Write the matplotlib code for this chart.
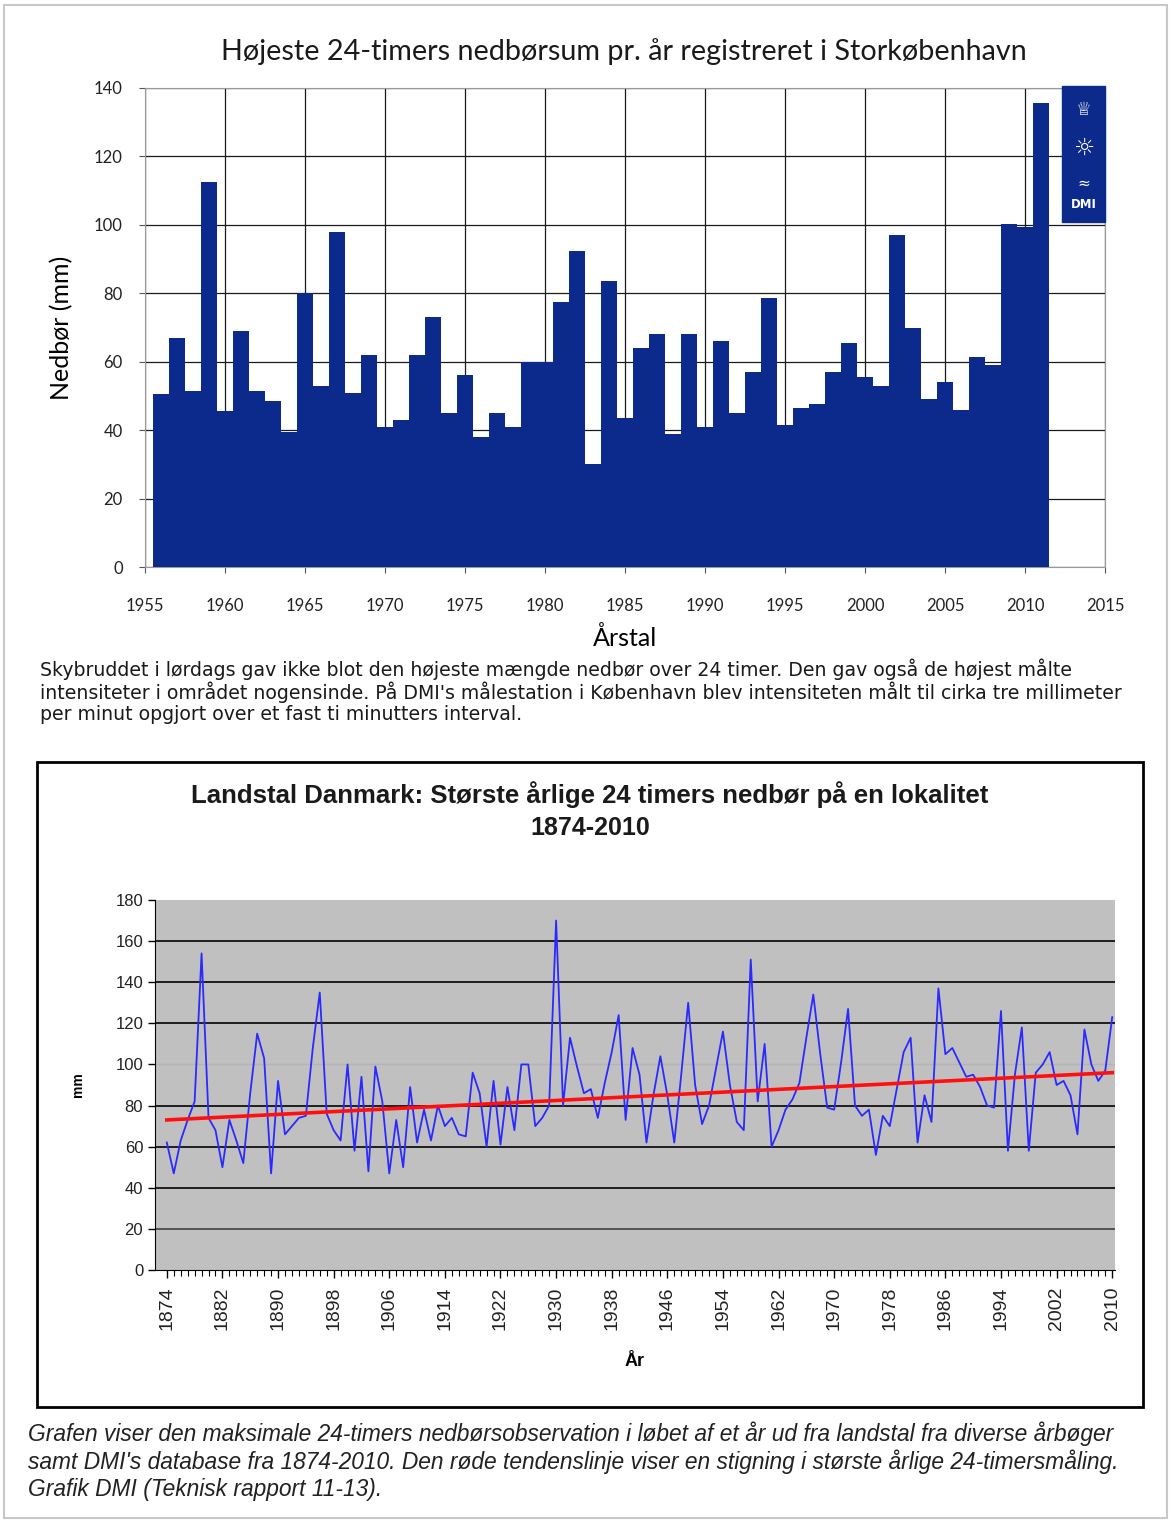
import numpy as np
import matplotlib.pyplot as plt
from matplotlib.patches import Rectangle

# Storkøbenhavn: højeste 24-timers nedbør pr. år (mm)
aar_kbh = list(range(1956, 2012))
nedbor_kbh = [50.5, 67, 51.5, 112.5, 45.5, 69, 51.5, 48.5, 39.5, 80,
              53, 98, 51, 62, 41, 43, 62, 73, 45, 56,
              38, 45, 41, 60, 60, 77.5, 92.5, 30, 83.5, 43.5,
              64, 68, 39, 68, 41, 66, 45, 57, 78.5, 41.5,
              46.5, 47.5, 57, 65.5, 55.5, 53, 97, 70, 49, 54,
              46, 61.5, 59, 100.3, 99.5, 135.5]

# Landstal Danmark: største årlige 24 timers nedbør (mm)
aar_dk = list(range(1874, 2011))
nedbor_dk = [62, 47, 63, 73, 82, 154, 74, 68, 50, 73,
             63, 52, 86, 115, 103, 47, 92, 66, 70, 74,
             75, 108, 135, 76, 68, 63, 100, 58, 94, 48,
             99, 82, 47, 73, 50, 89, 62, 78, 63, 80,
             70, 74, 66, 65, 96, 86, 60, 92, 61, 89,
             68, 100, 100, 70, 74, 80, 170, 80, 113, 99,
             86, 88, 74, 91, 106, 124, 73, 108, 95, 62,
             85, 104, 85, 62, 95, 130, 90, 71, 80, 98,
             116, 90, 72, 68, 151, 82, 110, 60, 68, 78,
             83, 91, 113, 134, 105, 79, 78, 101, 127, 80,
             75, 78, 56, 75, 70, 88, 106, 113, 62, 85,
             72, 137, 105, 108, 101, 94, 95, 89, 80, 79,
             126, 58, 95, 118, 58, 96, 100, 106, 90, 92,
             85, 66, 117, 100, 92, 97, 123]

# rød tendenslinje (endepunkter aflæst)
trend_aar = [1874, 2010]
trend_mm = [73, 96]

W, H = 1171, 1521
fig = plt.figure(figsize=(W / 100, H / 100), dpi=100)
fig.patch.set_facecolor('white')

def fx(px):
    return px / W

def fy(py):
    return 1 - py / H

# ramme om hele siden
fig.add_artist(Rectangle((0.003, 0.002), 0.994, 0.995, transform=fig.transFigure,
                         fill=False, edgecolor='#c8c8c8', lw=1.5))

# ---------- øverste graf ----------
ax1 = fig.add_axes([fx(145), fy(567), fx(1105 - 145), (567 - 88) / H])
ax1.bar(aar_kbh, nedbor_kbh, width=1.0, color='#0c2a8c', edgecolor='none', zorder=3)
ax1.set_xlim(1955, 2015)
ax1.set_ylim(0, 140)
ax1.set_xticks(range(1955, 2016, 5))
ax1.set_yticks(range(0, 141, 20))
ax1.grid(True, color='#1a1a1a', linewidth=0.9)
ax1.set_axisbelow(True)
for s in ax1.spines.values():
    s.set_color('#9a9a9a')
ax1.tick_params(axis='both', colors='#555555', length=4, labelsize=12)
ax1.tick_params(axis='x', pad=18)
ax1.tick_params(axis='y', pad=12)
for lab in ax1.get_xticklabels() + ax1.get_yticklabels():
    lab.set_family('Lato')
    lab.set_color('#222222')
ax1.set_ylabel('Nedbør (mm)', family='Lato', fontsize=18, labelpad=15)
ax1.set_xlabel('Årstal', family='Lato', fontsize=18, labelpad=9)

# DMI-logo
ax1.add_patch(Rectangle((0.955, 0.72), 0.045, 0.285, transform=ax1.transAxes,
                        color='#0c2a8c', zorder=5, clip_on=False))
ax1.text(0.9775, 0.955, '♕', transform=ax1.transAxes, ha='center', va='center',
         color='white', fontsize=13, zorder=6)
ax1.text(0.9775, 0.875, '☼', transform=ax1.transAxes, ha='center', va='center',
         color='white', fontsize=17, zorder=6)
ax1.text(0.9775, 0.8, '≈', transform=ax1.transAxes, ha='center', va='center',
         color='white', fontsize=11, zorder=6)
ax1.text(0.9775, 0.757, 'DMI', transform=ax1.transAxes, ha='center', va='center',
         color='white', fontsize=8.5, fontweight='bold', zorder=6)

fig.text(fx(624), fy(52), 'Højeste 24-timers nedbørsum pr. år registreret i Storkøbenhavn',
         ha='center', va='center', family='Lato', fontsize=20.7, color='#1a1a1a')

tekst1 = ("Skybruddet i lørdags gav ikke blot den højeste mængde nedbør over 24 timer. Den gav også de højest målte\n"
          "intensiteter i området nogensinde. På DMI's målestation i København blev intensiteten målt til cirka tre millimeter\n"
          "per minut opgjort over et fast ti minutters interval.")
fig.text(fx(40), fy(658), tekst1, ha='left', va='top', fontsize=13.6,
         family='DejaVu Sans', color='#1a1a1a', linespacing=1.12)

# ---------- nederste graf ----------
fig.add_artist(Rectangle((fx(37), fy(1407)), fx(1143 - 37), (1407 - 762) / H,
                         transform=fig.transFigure, fill=False, edgecolor='black', lw=2))

ax2 = fig.add_axes([fx(155), fy(1270), fx(1115 - 155), (1270 - 900) / H])
ax2.set_facecolor('#c0c0c0')
for v in [20, 40, 60, 80, 120, 140, 160]:
    ax2.axhline(v, color='#4a4a4a' if v == 20 else '#111111', lw=1.3, zorder=1)
ax2.axhline(100, color='#b4b4b4', lw=1.0, zorder=1)
ax2.plot(aar_dk, nedbor_dk, color='#2a2aff', lw=1.3, zorder=3)
ax2.plot(trend_aar, trend_mm, color='#ff1010', lw=2.6, zorder=4)
ax2.set_xlim(1872.3, 2010.4)
ax2.set_ylim(0, 180)
ax2.set_yticks(range(0, 181, 20))
ax2.set_xticks(range(1874, 2011, 8))
ax2.set_xticks(aar_dk, minor=True)
ax2.tick_params(axis='x', which='major', length=6, width=1, labelrotation=90, pad=6,
                labelsize=14)
ax2.tick_params(axis='x', which='minor', length=4, width=0.8)
ax2.tick_params(axis='y', length=5, width=1, labelsize=12)
ax2.tick_params(axis='both', labelcolor='#222222')
for lab in ax2.get_xticklabels() + ax2.get_yticklabels():
    lab.set_family('Liberation Sans')
for side in ['top', 'right']:
    ax2.spines[side].set_visible(False)
ax2.spines['left'].set_color('black')
ax2.spines['bottom'].set_color('black')
ax2.set_xlabel('År', family='Liberation Sans', fontsize=13, fontweight='bold', labelpad=16)
ax2.set_ylabel('mm', family='Liberation Sans', fontsize=10, fontweight='bold', labelpad=22)

fig.text(fx(590), fy(795), 'Landstal Danmark: Største årlige 24 timers nedbør på en lokalitet',
         ha='center', va='center', family='Liberation Sans', fontsize=18.5, fontweight='bold',
         color='#1a1a1a')
fig.text(fx(590), fy(828), '1874-2010', ha='center', va='center', family='Liberation Sans',
         fontsize=18, fontweight='bold', color='#1a1a1a')

tekst2 = ("Grafen viser den maksimale 24-timers nedbørsobservation i løbet af et år ud fra landstal fra diverse årbøger\n"
          "samt DMI's database fra 1874-2010. Den røde tendenslinje viser en stigning i største årlige 24-timersmåling.\n"
          "Grafik DMI (Teknisk rapport 11-13).")
fig.text(fx(28), fy(1421), tekst2, ha='left', va='top', fontsize=16.4, style='italic',
         family='Liberation Sans', color='#222222', linespacing=1.22)

fig.savefig('out.png', dpi=100)
